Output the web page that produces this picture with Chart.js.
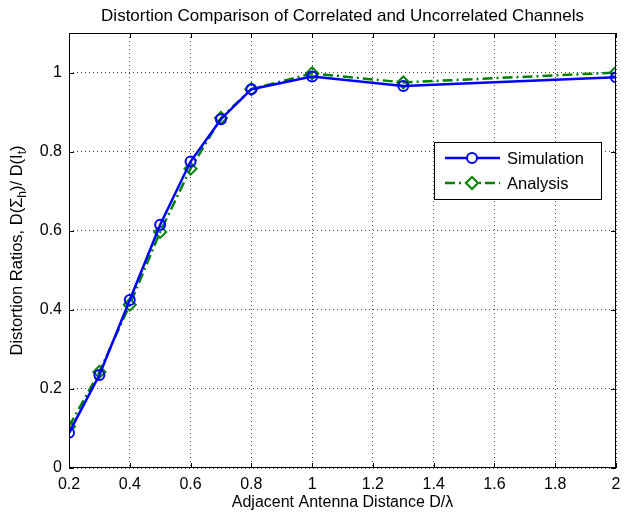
<!DOCTYPE html>
<html>
<head>
	<title>Distortion Comparison</title>
	<style>
		body { margin: 0; background: #fff; }
		.chart { width: 624px; height: 512px; }
	</style>
</head>
<body>
	<div class="chart">
	<canvas id="chart1"></canvas>
	</div>

	<script src="https://cdn.jsdelivr.net/npm/chart.js@4.4.0/dist/chart.umd.min.js"></script>
	<script>
		// data
		var distances = [0.2, 0.3, 0.4, 0.5, 0.6, 0.7, 0.8, 1.0, 1.3, 2.0];
		var simulation = [0.089, 0.235, 0.425, 0.615, 0.775, 0.882, 0.958, 0.990, 0.966, 0.988];
		var analysis = [0.105, 0.243, 0.413, 0.597, 0.757, 0.885, 0.958, 0.998, 0.975, 1.000];
		var xTicks = [0.2, 0.4, 0.6, 0.8, 1, 1.2, 1.4, 1.6, 1.8, 2];
		var yTicks = [0, 0.2, 0.4, 0.6, 0.8, 1];

		var FONT = '"Liberation Sans", Arial, Helvetica, sans-serif';

		//draws the title, the y label with subscripts, the box round the axes, the inward ticks and the legend
		var matlabLook = {
			id: 'matlabLook',
			afterDraw: function(chart) {
				var ctx = chart.ctx;
				var a = chart.chartArea;
				var xs = chart.scales.x, ys = chart.scales.y;
				ctx.save();

				ctx.fillStyle = '#000';
				ctx.font = '17px ' + FONT;
				ctx.textAlign = 'center';
				ctx.textBaseline = 'alphabetic';
				ctx.fillText('Distortion Comparison of Correlated and Uncorrelated Channels', (a.left + a.right) / 2, 21);

				// y label: D(Σ_h)/ D(I_t)
				var parts = [['Distortion Ratios, D(\u03a3', 0], ['h', 1], [')/ D(I', 0], ['t', 1], [')', 0]];
				var big = '16.5px ' + FONT, small = '12px ' + FONT;
				var total = 0;
				parts.forEach(function(p) { ctx.font = p[1] ? small : big; total += ctx.measureText(p[0]).width; });
				ctx.save();
				ctx.translate(22, (a.top + a.bottom) / 2);
				ctx.rotate(-Math.PI / 2);
				ctx.textAlign = 'left';
				var cx = -total / 2;
				parts.forEach(function(p) {
					ctx.font = p[1] ? small : big;
					ctx.fillText(p[0], cx, p[1] ? 4 : 0);
					cx += ctx.measureText(p[0]).width;
				});
				ctx.restore();

				ctx.strokeStyle = '#000';
				ctx.lineWidth = 1;
				ctx.setLineDash([]);
				ctx.strokeRect(a.left + 0.5, a.top + 0.5, a.right - a.left - 1, a.bottom - a.top - 1);

				ctx.beginPath();
				xTicks.forEach(function(v) {
					var px = Math.round(xs.getPixelForValue(v)) + 0.5;
					ctx.moveTo(px, a.bottom); ctx.lineTo(px, a.bottom - 5);
					ctx.moveTo(px, a.top); ctx.lineTo(px, a.top + 5);
				});
				yTicks.forEach(function(v) {
					var py = Math.round(ys.getPixelForValue(v)) + 0.5;
					ctx.moveTo(a.left, py); ctx.lineTo(a.left + 5, py);
					ctx.moveTo(a.right, py); ctx.lineTo(a.right - 5, py);
				});
				ctx.stroke();

				// legend box
				var bx = 434, by = 142, bw = 167, bh = 57;
				ctx.fillStyle = '#fff';
				ctx.fillRect(bx, by, bw, bh);
				ctx.strokeRect(bx + 0.5, by + 0.5, bw, bh);
				ctx.font = '16.5px ' + FONT;
				ctx.textAlign = 'left';
				ctx.textBaseline = 'middle';
				chart.data.datasets.forEach(function(ds, i) {
					var ly = by + 16 + i * 25;
					ctx.strokeStyle = ds.borderColor;
					ctx.lineWidth = 2.5;
					ctx.setLineDash(ds.borderDash || []);
					ctx.beginPath();
					ctx.moveTo(445, ly); ctx.lineTo(500, ly);
					ctx.stroke();
					ctx.setLineDash([]);
					ctx.lineWidth = 2;
					ctx.fillStyle = '#fff';
					Chart.helpers.drawPoint(ctx, {
						pointStyle: ds.pointStyle, radius: ds.pointRadius, borderWidth: 2
					}, 472, ly);
					ctx.fillStyle = '#000';
					ctx.fillText(ds.label, 507, ly + 1);
				});
				ctx.restore();
			}
		};

		var ctx = document.getElementById('chart1').getContext('2d');
		var chart = new Chart(ctx, {
			type: 'line',
			data: {
				datasets: [{
					label: 'Simulation',
					data: distances.map(function(d, i) { return {x: d, y: simulation[i]}; }),
					borderColor: '#0000ff',
					backgroundColor: 'rgba(0,0,0,0)',
					borderWidth: 2.5,
					pointStyle: 'circle',
					pointRadius: 5,
					pointBorderWidth: 2,
					pointBorderColor: '#0000ff',
					pointBackgroundColor: 'rgba(0,0,0,0)',
					tension: 0
				}, {
					label: 'Analysis',
					data: distances.map(function(d, i) { return {x: d, y: analysis[i]}; }),
					borderColor: '#008000',
					backgroundColor: 'rgba(0,0,0,0)',
					borderWidth: 2.5,
					borderDash: [10, 4, 2, 4],
					pointStyle: 'rectRot',
					pointRadius: 6,
					pointBorderWidth: 2,
					pointBorderColor: '#008000',
					pointBackgroundColor: 'rgba(0,0,0,0)',
					tension: 0
				}]
			},
			options: {
				responsive: true,
				maintainAspectRatio: false,
				animation: false,
				layout: { padding: { left: 0, right: 5, top: 33, bottom: 0 } },
				plugins: {
					legend: { display: false },
					title: { display: false },
					tooltip: { enabled: false }
				},
				scales: {
					x: {
						type: 'linear',
						min: 0.2,
						max: 2,
						afterBuildTicks: function(s) { s.ticks = xTicks.map(function(v) { return {value: v}; }); },
						afterFit: function(s) { s.height = 44; s.paddingLeft = 0; s.paddingRight = 0; },
						grid: { color: '#444', drawTicks: false },
						border: { display: false, dash: [1, 3] },
						ticks: {
							color: '#000', padding: 7, maxRotation: 0,
							font: { family: FONT, size: 16 },
							callback: function(v) { return String(Number(v.toFixed(1))); }
						},
						title: {
							display: true, text: 'Adjacent Antenna Distance D/\u03bb', color: '#000',
							font: { family: FONT, size: 16 }, padding: { top: -2, bottom: 0 }
						}
					},
					y: {
						min: 0,
						max: 1.1,
						afterBuildTicks: function(s) { s.ticks = yTicks.map(function(v) { return {value: v}; }); },
						afterFit: function(s) { s.width = 69; s.paddingTop = 0; s.paddingBottom = 0; },
						grid: { color: '#444', drawTicks: false },
						border: { display: false, dash: [1, 3] },
						ticks: {
							color: '#000', padding: 7,
							font: { family: FONT, size: 16 },
							callback: function(v) { return String(Number(v.toFixed(1))); }
						}
					}
				}
			},
			plugins: [matlabLook]
		});
	</script>
</body>
</html>
